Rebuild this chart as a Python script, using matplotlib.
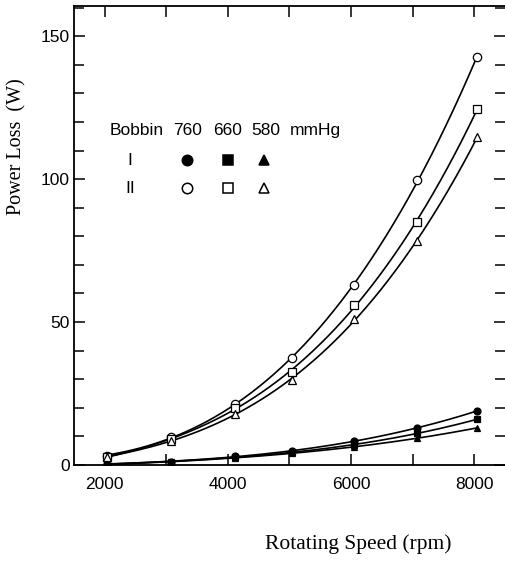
import numpy as np
import matplotlib
matplotlib.use('Agg')
import matplotlib.pyplot as plt
from matplotlib.ticker import MultipleLocator, FuncFormatter

# rotating speed (rpm) of each measurement
speed = [2030, 3070, 4120, 5040, 6050, 7070, 8050]

# bobbin I (filled markers)
b1_760 = [0.4, 1.2, 3.0, 4.9, 8.5, 12.8, 19.0]
b1_660 = [0.3, 1.1, 2.8, 4.5, 7.0, 11.1, 16.0]
b1_580 = [0.2, 1.0, 2.6, 4.2, 6.2, 9.4, 13.0]

# bobbin II (open markers)
b2_760 = [3.3, 9.7, 21.5, 37.3, 62.9, 99.7, 142.8]
b2_660 = [2.7, 9.1, 19.9, 32.6, 56.1, 85.0, 124.6]
b2_580 = [2.9, 8.5, 17.8, 29.8, 51.0, 78.4, 114.7]

plt.rcParams['font.family'] = ['Liberation Sans', 'DejaVu Sans']

fig = plt.figure(figsize=(5.05, 5.69), dpi=100)
ax = fig.add_axes([0.1465, 0.1828, 0.8535, 0.8062])

series = [(b1_760, 'o', 'k'), (b1_660, 's', 'k'), (b1_580, '^', 'k'),
          (b2_760, 'o', 'w'), (b2_660, 's', 'w'), (b2_580, '^', 'w')]

xs = np.linspace(speed[0], speed[-1], 200)
for vals, mk, fc in series:
    # smooth curve through the points (cubic fit)
    coef = np.polyfit(speed, vals, 3)
    ax.plot(xs, np.polyval(coef, xs), color='k', lw=1.2, zorder=2)
    ms = 6 if fc == 'w' else 5
    ax.plot(speed, vals, linestyle='none', marker=mk, ms=ms, mfc=fc,
            mec='k', mew=0.9, zorder=3)

ax.set_xlim(1500, 8500)
ax.set_ylim(0, 160.5)
ax.spines['right'].set_visible(False)
for s in ['left', 'top', 'bottom']:
    ax.spines[s].set_linewidth(1.3)

ax.xaxis.set_major_locator(MultipleLocator(1000))
ax.xaxis.set_major_formatter(FuncFormatter(lambda v, p: '%d' % v if v % 2000 == 0 else ''))
ax.yaxis.set_major_locator(MultipleLocator(50))
ax.yaxis.set_minor_locator(MultipleLocator(10))
ax.tick_params(axis='both', which='both', direction='in', top=True, right=True,
               labelsize=12.5, width=1.1)
ax.tick_params(axis='both', which='major', length=8)
ax.tick_params(axis='y', which='minor', length=7)
ax.tick_params(axis='x', pad=9)
ax.tick_params(axis='y', pad=3)

ax.set_xlabel('Rotating Speed (rpm)', family='Liberation Serif', fontsize=15.5)
ax.xaxis.set_label_coords(0.659, -0.152)
ax.set_ylabel('Power Loss  (W)', family='Liberation Serif', fontsize=14.5)
ax.yaxis.set_label_coords(-0.11, 0.693)

# marker key
hdr_y = 117
ax.text(2085, hdr_y, 'Bobbin', fontsize=12.5, va='center')
for xp, t in zip([3110, 3760, 4380, 5010], ['760', '660', '580', 'mmHg']):
    ax.text(xp, hdr_y, t, fontsize=12.5, va='center')
for row, yv, fc in [('I', 106.6, 'k'), ('II', 96.9, 'w')]:
    ax.text(2410, yv, row, fontsize=12.5, va='center', ha='center')
    for xp, mk in zip([3340, 4000, 4590], ['o', 's', '^']):
        ax.plot(xp, yv, marker=mk, ms=7.5, mfc=fc, mec='k', mew=1.1,
                linestyle='none')

fig.savefig('out.png', dpi=100)
